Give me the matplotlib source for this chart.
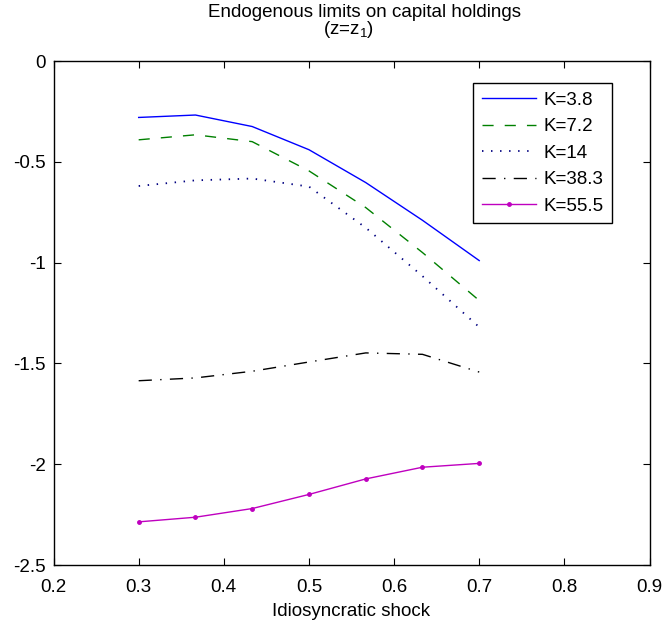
import numpy as np
import matplotlib
matplotlib.use('Agg')
import matplotlib.pyplot as plt

plt.rcParams['font.family'] = ['Liberation Sans', 'DejaVu Sans']

# Data
shock = [0.3, 0.3667, 0.4333, 0.5, 0.5667, 0.6333, 0.7]
k38 = [-0.28, -0.268, -0.325, -0.44, -0.603, -0.79, -0.99]
k72 = [-0.391, -0.366, -0.40, -0.545, -0.727, -0.95, -1.188]
k14 = [-0.62, -0.592, -0.583, -0.623, -0.827, -1.067, -1.32]
k383 = [-1.586, -1.572, -1.539, -1.493, -1.448, -1.455, -1.543]
k555 = [-2.286, -2.263, -2.22, -2.15, -2.073, -2.015, -1.996]

xticks = [0.2, 0.3, 0.4, 0.5, 0.6, 0.7, 0.8, 0.9]
yticks = [-2.5, -2, -1.5, -1, -0.5, 0]

fs = 13.5

fig = plt.figure(figsize=(6.65, 6.25), dpi=100)
ax = fig.add_axes([0.0805, 0.096, 0.8962, 0.8064])

ax.plot(shock, k38, '-', color='#0000ff', lw=1.0, label='K=3.8')
ax.plot(shock, k72, '--', color='#008000', lw=1.0, dashes=(8, 8), label='K=7.2')
ax.plot(shock, k14, ':', color='#000080', lw=1.3, dashes=(0.8, 4.2), label='K=14')
ax.plot(shock, k383, '-.', color='black', lw=1.0, dashes=(9.5, 6, 1, 6), label='K=38.3')
ax.plot(shock, k555, '-', color='#bf00bf', lw=1.0, marker='.', ms=5, label='K=55.5')

ax.set_xlim(0.2, 0.9)
ax.set_ylim(-2.5, 0)
ax.set_xticks(xticks)
ax.set_yticks(yticks)
ax.set_xticklabels([str(t) for t in xticks])
ax.set_yticklabels(['-2.5', '-2', '-1.5', '-1', '-0.5', '0'])
ax.tick_params(direction='in', top=True, right=True, labelsize=fs, length=5, width=0.8)
ax.tick_params(axis='x', pad=10)
ax.tick_params(axis='y', pad=5.5)
for s in ax.spines.values():
    s.set_linewidth(1.0)

ax.set_xlabel('Idiosyncratic shock', fontsize=fs, labelpad=5)

# two-line title, placed like the original
fig.text(0.5474, 0.9728, 'Endogenous limits on capital holdings', fontsize=fs,
         ha='center', va='baseline')
fig.text(0.524, 0.9456, '(z=z$_{\\mathregular{1}}$)', fontsize=fs,
         ha='center', va='baseline')

leg = ax.legend(loc='upper right', bbox_to_anchor=(0.937, 0.956), fontsize=fs,
                fancybox=False, framealpha=1, edgecolor='black', borderaxespad=0,
                handlelength=2.9, labelspacing=0.5, handletextpad=0.4, borderpad=0.45)
leg.get_frame().set_linewidth(1.0)

fig.savefig('out.png', dpi=100)
